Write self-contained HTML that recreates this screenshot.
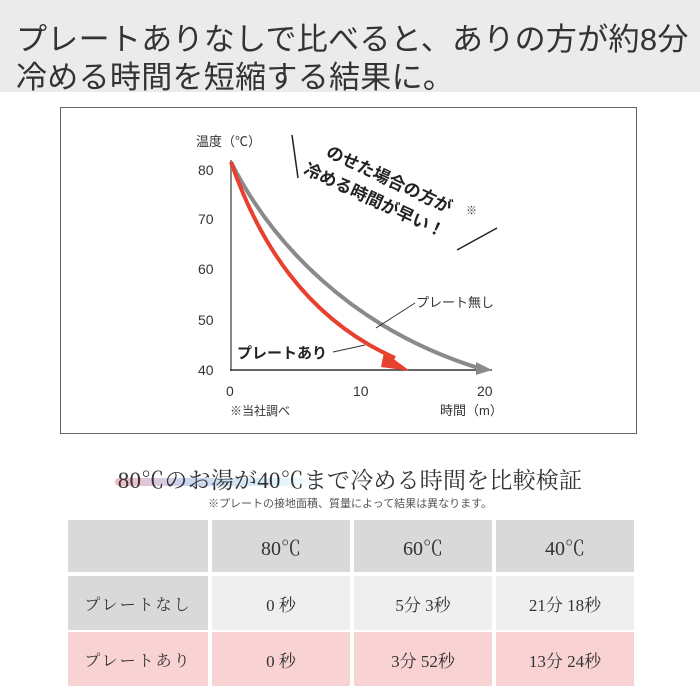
<!DOCTYPE html>
<html><head><meta charset="utf-8"><style>
body{margin:0;width:700px;height:700px;background:#fff;position:relative;overflow:hidden;font-family:"Liberation Sans","Noto Sans CJK JP",sans-serif}
.hd{position:absolute;left:0;top:0;width:700px;height:92px;background:#ebebeb}
.hd div{position:absolute;left:16px;font-size:31px;color:#333;white-space:nowrap;letter-spacing:0.3px}
.box{position:absolute;left:60px;top:107px;width:577px;height:327px;border:1px solid #666;box-sizing:border-box}
.t{position:absolute;font-family:"Liberation Serif","Noto Serif CJK SC",serif;color:#333;text-align:center}
.c{position:absolute;display:flex;align-items:center;justify-content:center;font-family:"Liberation Serif","Noto Serif CJK SC",serif;font-size:19px;color:#333}
</style></head><body>
<div class="hd"><div style="top:14px">プレートありなしで比べると、ありの方が約8分</div><div style="top:52px">冷める時間を短縮する結果に。</div></div>
<div class="box"></div>
<svg style="position:absolute;left:0;top:0" width="700" height="700" font-family="Liberation Sans,Noto Sans CJK JP,sans-serif">
<line x1="231" y1="160" x2="231" y2="371" stroke="#888" stroke-width="2"/>
<line x1="230" y1="370" x2="492" y2="370" stroke="#333" stroke-width="1.5"/>
<g font-size="14" fill="#333">
<text x="196" y="146" font-size="13">温度（℃）</text>
<text x="198" y="175">80</text><text x="198" y="224">70</text><text x="198" y="274">60</text><text x="198" y="325">50</text><text x="198" y="375">40</text>
<text x="226" y="396">0</text><text x="353" y="396">10</text><text x="477" y="396">20</text>
<text x="230" y="415" font-size="12">※当社調べ</text>
<text x="440" y="415" font-size="13">時間（m）</text>
</g>
<path d="M231,162 C270,240 350,330 485,370" fill="none" stroke="#8a8a8a" stroke-width="4"/>
<polygon points="476,362 492,370 476,375" fill="#8a8a8a"/>
<path d="M231,162 C258,240 305,318 395,358" fill="none" stroke="#e8402e" stroke-width="4"/>
<polygon points="384,352 410,371 381,367" fill="#e8402e"/>
<line x1="376" y1="328" x2="415" y2="303" stroke="#333" stroke-width="1"/>
<text x="416" y="307" font-size="13" fill="#333">プレート無し</text>
<line x1="333" y1="352" x2="365" y2="345" stroke="#333" stroke-width="1"/>
<text x="237" y="358" font-size="15" font-weight="bold" fill="#222">プレートあり</text>
<line x1="292" y1="135" x2="298" y2="178" stroke="#222" stroke-width="1.5"/>
<line x1="457" y1="250" x2="497" y2="228" stroke="#222" stroke-width="1.5"/>
<g transform="rotate(25 325 156)" font-size="17" font-weight="bold" fill="#222">
<text x="325" y="156">のせた場合の方が</text>
<text x="312" y="181">冷める時間が早い！</text>
</g>
<text x="466" y="214" font-size="11" fill="#333">※</text>
</svg>
<div style="position:absolute;left:115px;top:478px;width:210px;height:8px;border-radius:4px;background:linear-gradient(90deg,#f5b8c0,#c9d3ee,#d6ecf8,#fff)"></div>
<div class="t" style="left:0;top:462px;width:700px;font-size:23px;letter-spacing:0.2px">80℃のお湯が40℃まで冷める時間を比較検証</div>
<div class="t" style="left:0;top:495px;width:700px;font-size:11px;font-family:'Liberation Sans','Noto Sans CJK JP',sans-serif;color:#555">※プレートの接地面積、質量によって結果は異なります。</div>
<div class="c" style="left:68px;top:520px;width:140px;height:52px;background:#d9d9d9"></div>
<div class="c" style="left:212px;top:520px;width:138px;height:52px;background:#d9d9d9;font-size:20px">80℃</div>
<div class="c" style="left:354px;top:520px;width:138px;height:52px;background:#d9d9d9;font-size:20px">60℃</div>
<div class="c" style="left:496px;top:520px;width:138px;height:52px;background:#d9d9d9;font-size:20px">40℃</div>
<div class="c" style="left:68px;top:576px;width:140px;height:54px;background:#d9d9d9;font-size:16px;letter-spacing:2px">プレートなし</div>
<div class="c" style="left:212px;top:576px;width:138px;height:54px;background:#efefef;font-size:17px">0 秒</div>
<div class="c" style="left:354px;top:576px;width:138px;height:54px;background:#efefef;font-size:17px">5分 3秒</div>
<div class="c" style="left:496px;top:576px;width:138px;height:54px;background:#efefef;font-size:17px">21分 18秒</div>
<div class="c" style="left:68px;top:632px;width:140px;height:54px;background:#f9d3d3;font-size:16px;letter-spacing:2px">プレートあり</div>
<div class="c" style="left:212px;top:632px;width:138px;height:54px;background:#f9d3d3;font-size:17px">0 秒</div>
<div class="c" style="left:354px;top:632px;width:138px;height:54px;background:#f9d3d3;font-size:17px">3分 52秒</div>
<div class="c" style="left:496px;top:632px;width:138px;height:54px;background:#f9d3d3;font-size:17px">13分 24秒</div>
</body></html>
